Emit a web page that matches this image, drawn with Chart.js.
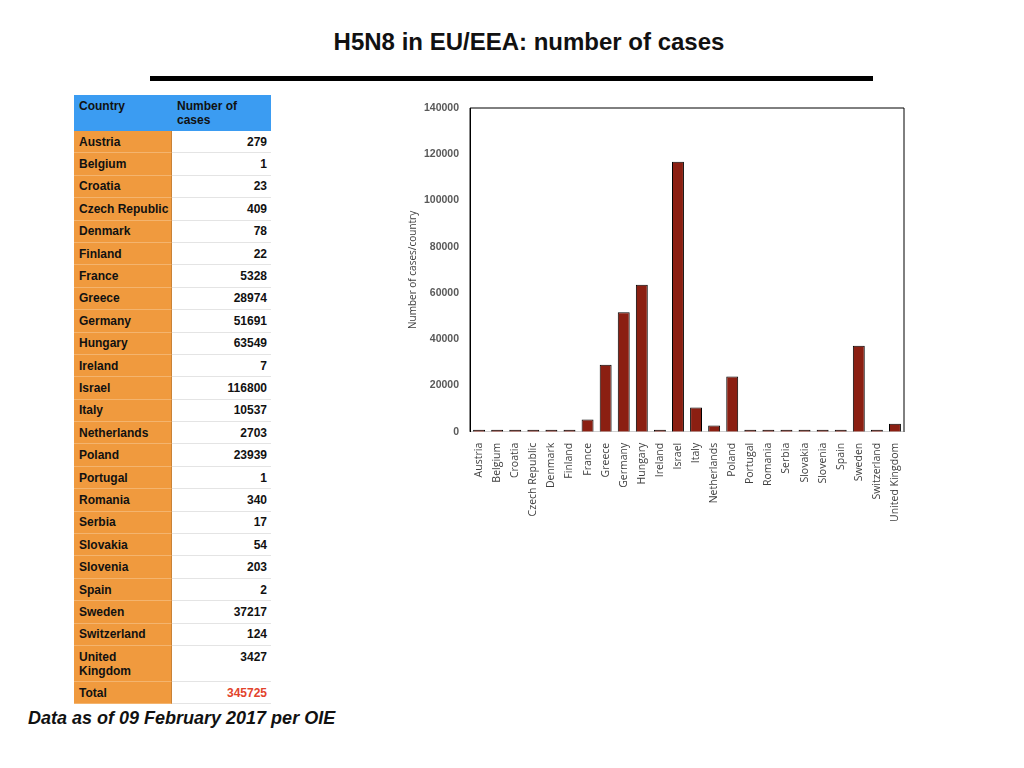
<!DOCTYPE html>
<html lang="en">
<head>
    <meta charset="UTF-8">
    <title>H5N8 in EU/EEA: number of cases</title>
    <script src="https://cdn.jsdelivr.net/npm/chart.js@4.4.3/dist/chart.umd.min.js"></script>
    <style>
        html, body { margin: 0; padding: 0; background: #fff; }
        body { width: 1024px; height: 768px; position: relative; overflow: hidden; font-family: "Liberation Sans", Arial, sans-serif; }
        #title { position: absolute; left: 0; width: 1058px; top: 28px; text-align: center; font-family: "Liberation Sans Narrow", "Liberation Sans", sans-serif; font-weight: bold; font-size: 24px; color: #111; }
        #rule { position: absolute; left: 150px; top: 76px; width: 723px; height: 5px; background: #000; }
        #tbl { position: absolute; left: 74px; top: 95px; width: 197px; font-size: 12px; font-weight: bold; color: #111; }
        .row { display: flex; height: 22.4px; box-sizing: border-box; }
        .row .c { width: 98px; flex: none; box-sizing: border-box; background: #f09a3e; padding: 0 0 0 5px; border-right: 1px solid #c98236; border-bottom: 1px solid #f4b46e; display: flex; align-items: center; white-space: nowrap; }
        .row .n { flex: 1; box-sizing: border-box; background: #fff; padding: 0 4px 0 0; border-bottom: 1px solid #e4e4e4; display: flex; align-items: center; justify-content: flex-end; }
        .row.h { height: 36px; }
        .row.h .c, .row.h .n { background: #3b9cf2; border: none; align-items: flex-start; padding-top: 4px; line-height: 14px; }
        .row.h .n { justify-content: flex-start; padding-left: 5px; }
        .row.tall { height: 36px; }
        .row.tall .c, .row.tall .n { align-items: flex-start; padding-top: 4px; line-height: 14px; }
        .row .red { color: #e2432c; }
        #note { position: absolute; left: 28px; top: 708px; font-size: 18px; font-weight: bold; font-style: italic; color: #111; }
        #box { position: absolute; left: 400px; top: 95px; width: 520px; height: 430px; }
    </style>
</head>
<body>
    <div id="title">H5N8 in EU/EEA: number of cases</div>
    <div id="rule"></div>
    <div id="tbl"></div>
    <div id="note">Data as of 09 February 2017 per OIE</div>
    <div id="box"><canvas id="casesChart"></canvas></div>
    <script>
        const countries = ['Austria', 'Belgium', 'Croatia', 'Czech Republic', 'Denmark', 'Finland', 'France',
            'Greece', 'Germany', 'Hungary', 'Ireland', 'Israel', 'Italy', 'Netherlands', 'Poland', 'Portugal',
            'Romania', 'Serbia', 'Slovakia', 'Slovenia', 'Spain', 'Sweden', 'Switzerland', 'United Kingdom'];
        const cases = [279, 1, 23, 409, 78, 22, 5328, 28974, 51691, 63549, 7, 116800, 10537, 2703, 23939, 1,
            340, 17, 54, 203, 2, 37217, 124, 3427];
        const totalCases = 345725;
        const yTicks = [0, 20000, 40000, 60000, 80000, 100000, 120000, 140000];

        // table on the left
        let rows = '<div class="row h"><div class="c">Country</div><div class="n">Number of<br>cases</div></div>';
        countries.forEach((c, i) => {
            const tall = c === 'United Kingdom';
            rows += '<div class="row' + (tall ? ' tall' : '') + '"><div class="c">' + (tall ? 'United<br>Kingdom' : c) +
                '</div><div class="n">' + cases[i] + '</div></div>';
        });
        rows += '<div class="row"><div class="c">Total</div><div class="n red">' + totalCases + '</div></div>';
        document.getElementById('tbl').innerHTML = rows;

        // frame round the plot area
        const frame = {
            id: 'frame',
            afterDraw(chart) {
                const a = chart.chartArea, g = chart.ctx;
                g.save();
                g.strokeStyle = '#000';
                g.lineWidth = 1;
                g.beginPath();
                g.moveTo(a.left, a.bottom);
                g.lineTo(a.left, a.top);
                g.lineTo(a.right, a.top);
                g.lineTo(a.right, a.bottom);
                g.stroke();
                g.restore();
            }
        };

        new Chart(document.getElementById('casesChart'), {
            type: 'bar',
            data: {
                labels: countries,
                datasets: [{
                    label: 'Number of cases',
                    data: cases,
                    backgroundColor: '#8b1f12',
                    borderColor: '#000',
                    borderWidth: 1,
                    minBarLength: 2,
                    barPercentage: 0.66,
                    categoryPercentage: 1
                }]
            },
            options: {
                responsive: true,
                maintainAspectRatio: false,
                animation: false,
                layout: { padding: { top: 13, right: 16, left: 5 } },
                plugins: { legend: { display: false }, tooltip: { enabled: false } },
                scales: {
                    x: {
                        grid: { display: false },
                        border: { color: '#d0d0d0' },
                        ticks: {
                            minRotation: 90, maxRotation: 90, autoSkip: false,
                            color: '#404040',
                            font: { family: 'Open Sans', size: 10.5 }
                        }
                    },
                    y: {
                        min: 0, max: 140000,
                        afterBuildTicks: axis => { axis.ticks = yTicks.map(v => ({ value: v })); },
                        grid: { display: false },
                        border: { color: '#000' },
                        ticks: {
                            color: '#595959',
                            padding: 3,
                            callback: v => String(v),
                            font: { family: 'Liberation Sans', size: 10.5, weight: 'bold' }
                        },
                        title: {
                            display: true,
                            text: 'Number of cases/country',
                            color: '#404040',
                            padding: { top: 2, bottom: 2 },
                            font: { family: 'Open Sans', size: 10 }
                        }
                    }
                }
            },
            plugins: [frame]
        });
    </script>
</body>
</html>
